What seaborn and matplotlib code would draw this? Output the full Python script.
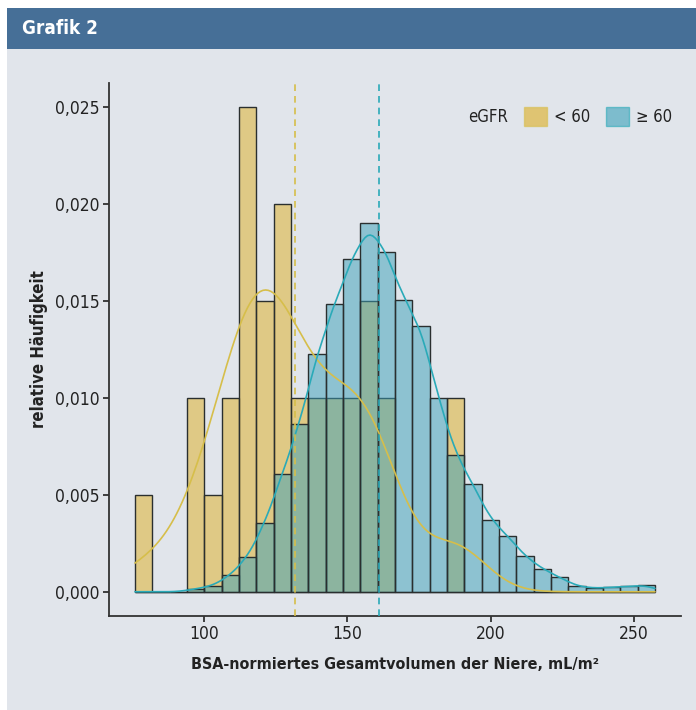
import numpy as np
import pandas as pd
import matplotlib
matplotlib.use("Agg")
import matplotlib.pyplot as plt
import seaborn as sns
from matplotlib import font_manager as fm
from matplotlib.patches import Patch, Rectangle
from matplotlib.ticker import FuncFormatter

# ---------------- data ----------------
groups = ["< 60", "≥ 60"]
bin_start = 75.9
bin_width = 6.05
density_lt60 = [0.005, 0.0, 0.0, 0.010, 0.005, 0.010, 0.025, 0.015, 0.020, 0.010,
                0.010, 0.010, 0.010, 0.015, 0.010, 0.0, 0.0, 0.0, 0.010, 0.0,
                0.0, 0.0, 0.0, 0.0, 0.0, 0.0, 0.0, 0.0, 0.0, 0.0]
density_ge60 = [0.0, 0.0, 0.0, 0.00015, 0.0003, 0.00085, 0.00177, 0.00354, 0.00609, 0.00866,
                0.01228, 0.01484, 0.01717, 0.01902, 0.01755, 0.01507, 0.01372, 0.00998, 0.00705, 0.00557,
                0.00371, 0.0029, 0.00182, 0.00119, 0.00074, 0.00028, 0.00018, 0.00023, 0.00028, 0.00035]
group_means = [131.7, 161.2]
x_ticks = [100, 150, 200, 250]
y_ticks = [0.000, 0.005, 0.010, 0.015, 0.020, 0.025]

# ---------------- style ----------------
names = {f.name for f in fm.fontManager.ttflist}
if "Liberation Sans Narrow" in names:
    FONT = ["Liberation Sans Narrow", "DejaVu Sans"]
    STRETCH = "normal"
else:
    FONT = ["DejaVu Sans"]
    STRETCH = "condensed"
BG = "#E1E5EB"
HEADER = "#466F97"
fill_colors = {"< 60": "#DFAF21", "≥ 60": "#3BA1B9"}
line_colors = {"< 60": "#D6BE4A", "≥ 60": "#2AAAB8"}
kde_bw = {"< 60": 11.0, "≥ 60": 4.2}
EDGE = "#2a2f2f"
TXT = "#222222"

sns.set_theme(style="ticks")
plt.rcParams["font.family"] = FONT
plt.rcParams["font.stretch"] = STRETCH

n_bins = len(density_lt60)
edges = bin_start + bin_width * np.arange(n_bins + 1)
centers = edges[:-1] + bin_width / 2
df = pd.DataFrame({
    "x": np.tile(centers, 2),
    "density": density_lt60 + density_ge60,
    "eGFR": np.repeat(groups, n_bins),
})

W, H = 696, 710
fig = plt.figure(figsize=(W / 100, H / 100), dpi=100, facecolor="white")
# panel background and header bar
fig.patches.append(Rectangle((7 / W, 0), 1 - 7 / W, (H - 49) / H, transform=fig.transFigure,
                             facecolor=BG, edgecolor="none", zorder=-10))
fig.patches.append(Rectangle((7 / W, (H - 49) / H), 1 - 7 / W, 41 / H, transform=fig.transFigure,
                             facecolor=HEADER, edgecolor="none", zorder=-10))
fig.text(22 / W, (H - 29) / H, "Grafik 2", color="white", fontsize=13.5, fontweight="bold",
         va="center", ha="left")

ax = fig.add_axes([109 / W, (H - 616) / H, (681 - 109) / W, (616 - 83) / H])
ax.set_facecolor(BG)

for g in groups:
    sub = df[df["eGFR"] == g]
    sns.histplot(data=sub, x="x", weights="density", bins=list(edges), stat="count",
                 color=fill_colors[g], alpha=0.5, edgecolor=EDGE, linewidth=1.0, ax=ax)

for g in groups:
    sub = df[df["eGFR"] == g]
    w = sub["density"].to_numpy()
    sd = np.sqrt(np.cov(sub["x"].to_numpy(), aweights=w))
    factor = np.sqrt(kde_bw[g] ** 2 - bin_width ** 2 / 12) / sd
    sns.kdeplot(data=sub, x="x", weights="density", bw_method=factor, cut=3,
                clip=(edges[0], edges[-1]), color=line_colors[g], linewidth=1.2, ax=ax)

for g, m in zip(groups, group_means):
    ax.axvline(m, color=line_colors[g], linestyle=(0, (4, 3)), linewidth=1.2, zorder=5)

span = edges[-1] - edges[0]
ax.set_xlim(edges[0] - 0.05 * span, edges[-1] + 0.05 * span)
ymax = max(max(density_lt60), max(density_ge60))
ax.set_ylim(-0.05 * ymax, 1.05 * ymax)
ax.set_xticks(x_ticks)
ax.set_yticks(y_ticks)
ax.yaxis.set_major_formatter(FuncFormatter(lambda v, p: f"{v:.3f}".replace(".", ",")))
ax.tick_params(axis="both", labelsize=12.5, colors=TXT, length=4.5, width=1.2, pad=2)
for s in ["top", "right"]:
    ax.spines[s].set_visible(False)
for s in ["left", "bottom"]:
    ax.spines[s].set_color("#333333")
    ax.spines[s].set_linewidth(1.3)

ax.set_xlabel("BSA-normiertes Gesamtvolumen der Niere, mL/m²", fontsize=11.5, fontweight="bold",
              color=TXT, labelpad=10)
ax.set_ylabel("relative Häufigkeit", fontsize=12, fontweight="bold", color=TXT, labelpad=5)

handles = [Patch(visible=False)] + [
    Patch(facecolor=fill_colors[g], alpha=0.6, edgecolor=line_colors[g], linewidth=1.0)
    for g in groups]
labels = ["eGFR"] + groups
leg = ax.legend(handles, labels, ncol=3, loc="upper right", bbox_to_anchor=(0.985, 0.955),
                frameon=False, handlelength=1.35, handleheight=1.4,
                handletextpad=0.45, columnspacing=0.95, borderpad=0, borderaxespad=0,
                prop={"family": FONT, "size": 12, "stretch": STRETCH})
for t in leg.get_texts():
    t.set_color(TXT)

fig.savefig("out.png", dpi=100, facecolor="white")
